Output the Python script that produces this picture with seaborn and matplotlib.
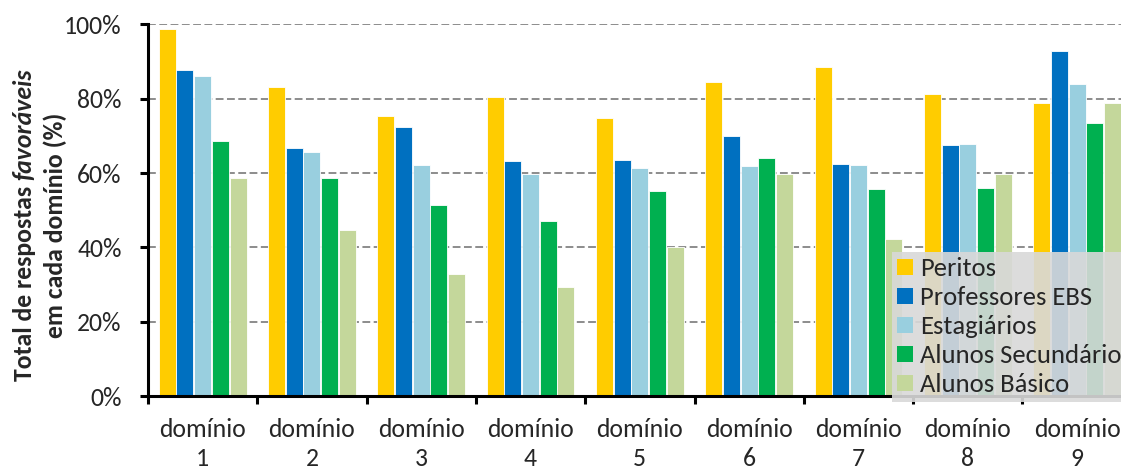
import matplotlib
matplotlib.use("Agg")
import matplotlib.pyplot as plt
from matplotlib.patches import Patch
from matplotlib.ticker import FixedLocator, FuncFormatter
import numpy as np
import pandas as pd
import seaborn as sns

# Share of favourable answers (%) per domain and respondent group
dominios = ["domínio\n1", "domínio\n2", "domínio\n3", "domínio\n4", "domínio\n5",
            "domínio\n6", "domínio\n7", "domínio\n8", "domínio\n9"]
grupos = ["Peritos", "Professores EBS", "Estagiários", "Alunos Secundário", "Alunos Básico"]
peritos = [98.7, 83.1, 75.4, 80.4, 74.7, 84.6, 88.6, 81.3, 79.0]
professores_ebs = [87.8, 66.8, 72.4, 63.3, 63.5, 70.0, 62.4, 67.5, 92.9]
estagiarios = [86.1, 65.6, 62.1, 59.8, 61.3, 61.9, 62.2, 67.8, 83.9]
alunos_secundario = [68.7, 58.6, 51.5, 47.2, 55.1, 64.0, 55.8, 55.9, 73.6]
alunos_basico = [58.7, 44.7, 32.9, 29.3, 40.1, 59.7, 42.3, 59.8, 78.9]
cores = ["#FFCC00", "#0070C0", "#99CFDF", "#00B050", "#C4D79B"]
ylabel_l1_a = "Total de respostas"
ylabel_l1_b = "favoráveis"
ylabel_l2 = "em cada domínio (%)"

series = [peritos, professores_ebs, estagiarios, alunos_secundario, alunos_basico]
df = pd.DataFrame({
    "dominio": np.tile(dominios, len(grupos)),
    "grupo": np.repeat(grupos, len(dominios)),
    "valor": np.concatenate(series),
})

sns.set_theme(style="white")
plt.rcParams["font.family"] = ["Carlito", "DejaVu Sans"]

W, H = 1121, 473
fig = plt.figure(figsize=(W / 100, H / 100), dpi=100)
ax = fig.add_axes([148 / W, 1 - 396 / H, 983.7 / W, 371.5 / H])

palette = dict(zip(grupos, cores))
sns.barplot(data=df, x="dominio", y="valor", hue="grupo", order=dominios,
            hue_order=grupos, palette=palette, width=0.81, gap=0.04,
            edgecolor="white", linewidth=0.6, saturation=1, ax=ax, legend=False)

ax.set_xlim(-0.5, len(dominios) - 0.5)
ax.set_ylim(0, 100)
ax.set_yticks([0, 20, 40, 60, 80, 100])
ax.yaxis.set_major_formatter(FuncFormatter(lambda v, p: f"{v:.0f}%"))
ax.set_axisbelow(True)
ax.yaxis.grid(True, linestyle=(0, (4.5, 2)), color="#7F7F7F", linewidth=1.25)
ax.xaxis.grid(False)

for side in ["top", "right"]:
    ax.spines[side].set_visible(False)
for side in ["left", "bottom"]:
    ax.spines[side].set_color("black")
    ax.spines[side].set_linewidth(2.2)

# category labels at centres, tick marks at group boundaries
ax.xaxis.set_minor_locator(FixedLocator(np.arange(-0.5, len(dominios), 1.0)))
ax.tick_params(axis="x", which="major", length=0, pad=16, labelsize=18.5)
ax.tick_params(axis="x", which="minor", length=6, width=2.2, color="black",
               direction="out", bottom=True)
ax.tick_params(axis="y", which="major", length=6, width=2.2, color="black",
               direction="out", left=True, labelsize=18.5, pad=13)
for lbl in ax.get_xticklabels():
    lbl.set_linespacing(1.3)
ax.set_xlabel("")
ax.set_ylabel("")

# two-line y label, first line mixing bold and bold italic
renderer = fig.canvas.get_renderer()
lab_kw = dict(rotation=90, rotation_mode="anchor", va="center", fontsize=18.5,
              fontweight="bold", transform=None)
cy = 225
t_a = fig.text(0, 0, ylabel_l1_a, ha="left", **lab_kw)
t_b = fig.text(0, 0, ylabel_l1_b, ha="left", style="italic", **lab_kw)
probe = fig.text(0, 0, "a a", fontsize=18.5, fontweight="bold")
probe2 = fig.text(0, 0, "aa", fontsize=18.5, fontweight="bold")
space = probe.get_window_extent(renderer).width - probe2.get_window_extent(renderer).width
probe.remove()
probe2.remove()
len_a = t_a.get_window_extent(renderer).height
len_b = t_b.get_window_extent(renderer).height
total = len_a + space + len_b
y0 = (H - cy) - total / 2
t_a.set_position((24, y0))
t_b.set_position((24, y0 + len_a + space))
fig.text(55, H - cy, ylabel_l2, ha="center", **lab_kw)

handles = [Patch(facecolor=c, edgecolor="none", label=g) for g, c in zip(grupos, cores)]
leg = ax.legend(handles=handles, loc="upper left",
                bbox_to_anchor=(892 / W, 1 - 252 / H), bbox_transform=fig.transFigure,
                borderaxespad=0, frameon=True, fancybox=False, fontsize=19.2,
                handlelength=0.58, handleheight=0.58, handletextpad=0.28,
                labelspacing=0.225, borderpad=0.2)
leg.get_frame().set_facecolor("#D9D9D9")
leg.get_frame().set_edgecolor("none")
leg.get_frame().set_alpha(0.9)
leg.set_zorder(10)

fig.savefig("out.png", dpi=100)
